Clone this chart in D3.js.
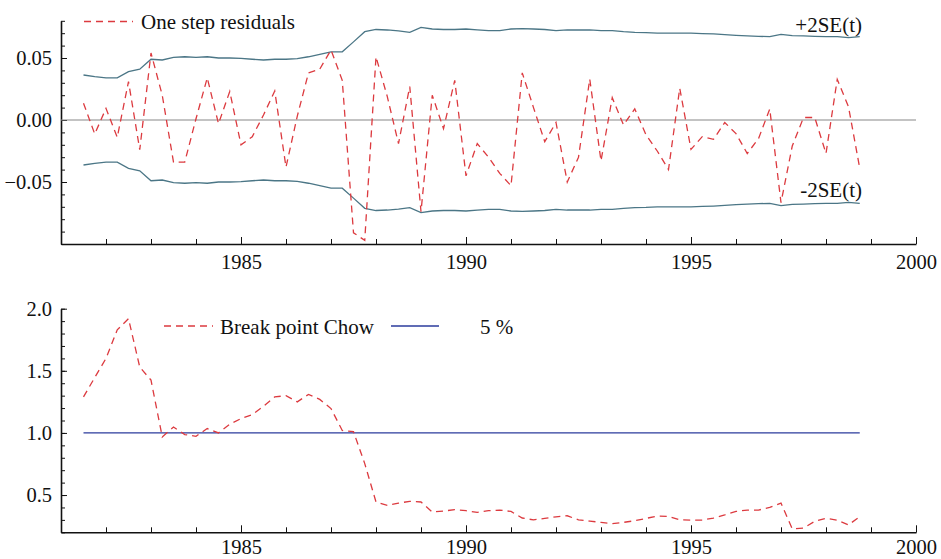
<!DOCTYPE html>
<html><head><meta charset="utf-8">
<script src="https://cdn.jsdelivr.net/npm/d3@7"></script>
<style>
body{margin:0;background:#fff;}
svg{display:block;font-family:"Liberation Serif","Times New Roman",serif;}
.ax text{font-family:"Liberation Serif",serif;font-size:20.5px;fill:#111;}
.ax path,.ax line{stroke:#111;}
</style></head>
<body><svg id="c" width="941" height="559"></svg>
<script>
// ---- data (quarterly, 1981Q3 .. 1998Q4) ----
const startYear = 1981.5;
const residuals = [0.0135,-0.0113,0.0094,-0.014,0.031,-0.024,0.054,0.020,-0.034,-0.034,
  0.001,0.034,-0.003,0.023,-0.020,-0.0135,0.004,0.0234,-0.038,0.003,
  0.038,0.041,0.0565,0.032,-0.091,-0.097,0.051,0.019,-0.019,0.027,
  -0.074,0.020,-0.007,0.032,-0.045,-0.019,-0.030,-0.043,-0.053,0.038,
  0.010,-0.0175,-0.002,-0.050,-0.030,0.033,-0.033,0.018,-0.004,0.009,
  -0.012,-0.025,-0.040,0.0256,-0.0237,-0.0134,-0.0156,-0.002,-0.011,-0.027,
  -0.015,0.0089,-0.0667,-0.021,0.002,0.002,-0.027,0.0328,0.0107,-0.039];
const upper2SE = [0.0363,0.035,0.034,0.034,0.039,0.041,0.049,0.0484,0.0505,0.051,
  0.0505,0.051,0.050,0.050,0.0497,0.049,0.0484,0.049,0.049,0.0495,
  0.051,0.053,0.055,0.055,0.063,0.0712,0.073,0.0726,0.0718,0.0707,
  0.0747,0.0734,0.073,0.073,0.0734,0.0726,0.072,0.072,0.0734,0.0737,
  0.0734,0.073,0.072,0.0726,0.0726,0.0726,0.072,0.072,0.0712,0.0707,
  0.0705,0.070,0.070,0.070,0.070,0.0697,0.0694,0.0689,0.0683,0.0678,
  0.0675,0.0672,0.069,0.068,0.0678,0.0675,0.0672,0.0672,0.0664,0.0672];
const lower2SE = [-0.0363,-0.035,-0.034,-0.034,-0.039,-0.041,-0.049,-0.0484,-0.0505,-0.051,
  -0.0505,-0.051,-0.050,-0.050,-0.0497,-0.049,-0.0484,-0.049,-0.049,-0.0495,
  -0.051,-0.053,-0.055,-0.055,-0.063,-0.0712,-0.073,-0.0726,-0.0718,-0.0707,
  -0.0747,-0.0734,-0.073,-0.073,-0.0734,-0.0726,-0.072,-0.072,-0.0734,-0.0737,
  -0.0734,-0.073,-0.072,-0.0726,-0.0726,-0.0726,-0.072,-0.072,-0.0712,-0.0707,
  -0.0705,-0.070,-0.070,-0.070,-0.070,-0.0697,-0.0694,-0.0689,-0.0683,-0.0678,
  -0.0675,-0.0672,-0.069,-0.068,-0.0678,-0.0675,-0.0672,-0.0672,-0.0664,-0.0672];
const chow = [1.29,1.446,1.60,1.83,1.92,1.53,1.425,0.968,1.048,0.987,
  0.973,1.035,1.0,1.07,1.115,1.148,1.215,1.29,1.30,1.25,
  1.31,1.27,1.196,1.02,1.01,0.753,0.444,0.417,0.435,0.449,
  0.444,0.363,0.371,0.382,0.374,0.36,0.374,0.379,0.368,0.315,
  0.30,0.312,0.325,0.333,0.30,0.29,0.28,0.27,0.28,0.293,
  0.312,0.33,0.328,0.30,0.298,0.298,0.315,0.34,0.368,0.379,
  0.379,0.40,0.435,0.228,0.234,0.288,0.312,0.298,0.26,0.325];
const crit5 = Array(70).fill(1.0);
const xMajorTicks = [1985,1990,1995,2000];
const xMinorTicks = d3.range(1981,2001);
const topMajor = [-0.05,0.00,0.05];
const topMinor = d3.range(-10,9).map(d=>d/100);
const botMajor = [0.5,1.0,1.5,2.0];
const botMinor = d3.range(2,21).map(d=>d/10);
const labels = {res:"One step residuals", up:"+2SE(t)", lo:"-2SE(t)", chow:"Break point Chow", crit:"5 %"};

const dates = residuals.map((_,i)=>startYear + i*0.25);
const RED="#dc3a3f", TEAL="#4b7686", BLUE="#2b3b9c";
const FS = 21;

const svg = d3.select("#c");
const x = d3.scaleLinear().domain([1981,2000]).range([61,916]);

function panel(y, yMajor, yMinor, fmt, axisY, xPad){
  const gx = svg.append("g").attr("class","ax").attr("transform",`translate(0,${axisY})`);
  gx.call(d3.axisBottom(x).tickValues(xMinorTicks).tickSize(-5).tickSizeOuter(0).tickFormat(""));
  gx.append("g").call(d3.axisBottom(x).tickValues(xMajorTicks).tickSize(-7).tickSizeOuter(0).tickPadding(xPad).tickFormat(d3.format("d")))
    .call(g=>g.select(".domain").remove());
  gx.selectAll(".domain").attr("stroke-width",1.6);
  const gy = svg.append("g").attr("class","ax").attr("transform",`translate(61,0)`);
  gy.call(d3.axisLeft(y).tickValues(yMinor).tickSize(-4).tickSizeOuter(0).tickFormat(""));
  gy.append("g").call(d3.axisLeft(y).tickValues(yMajor).tickSize(-6).tickSizeOuter(0).tickPadding(9).tickFormat(fmt))
    .call(g=>g.select(".domain").remove());
  gy.selectAll(".domain").attr("stroke-width",1.6);
}

// ---- top panel ----
const y1 = d3.scaleLinear().domain([-0.1,0.08]).range([244,20.8]);
panel(y1, topMajor, topMinor, d3.format(".2f"), 244, 10);
svg.append("line").attr("x1",61).attr("x2",916).attr("y1",y1(0)).attr("y2",y1(0))
  .attr("stroke","#888").attr("stroke-width",1.2);
const line1 = d3.line().x((d,i)=>x(dates[i])).y(d=>y1(d));
svg.append("path").datum(upper2SE).attr("d",line1).attr("fill","none").attr("stroke",TEAL).attr("stroke-width",1.3);
svg.append("path").datum(lower2SE).attr("d",line1).attr("fill","none").attr("stroke",TEAL).attr("stroke-width",1.3);
svg.append("path").datum(residuals).attr("d",line1).attr("fill","none").attr("stroke",RED)
  .attr("stroke-width",1.3).attr("stroke-dasharray","7,5");
svg.append("line").attr("x1",84).attr("x2",133).attr("y1",21.5).attr("y2",21.5)
  .attr("stroke",RED).attr("stroke-width",1.3).attr("stroke-dasharray","7,5");
svg.append("text").attr("x",141).attr("y",29).attr("font-size",FS).attr("fill","#111").text(labels.res);
svg.append("text").attr("x",862).attr("y",31.5).attr("font-size",FS).attr("fill","#111").attr("text-anchor","end").text(labels.up);
svg.append("text").attr("x",862).attr("y",196.5).attr("font-size",FS).attr("fill","#111").attr("text-anchor","end").text(labels.lo);

// ---- bottom panel ----
const y2 = d3.scaleLinear().domain([0.2,2.0]).range([532.3,308.7]);
panel(y2, botMajor, botMinor, d3.format(".1f"), 532.3, 7.5);
const line2 = d3.line().x((d,i)=>x(dates[i])).y(d=>y2(d));
svg.append("path").datum(crit5).attr("d",line2).attr("fill","none").attr("stroke",BLUE).attr("stroke-width",1.3);
svg.append("path").datum(chow).attr("d",line2).attr("fill","none").attr("stroke",RED)
  .attr("stroke-width",1.3).attr("stroke-dasharray","7,5");
svg.append("line").attr("x1",164).attr("x2",213).attr("y1",326).attr("y2",326)
  .attr("stroke",RED).attr("stroke-width",1.3).attr("stroke-dasharray","7,5");
svg.append("text").attr("x",220).attr("y",334).attr("font-size",FS).attr("fill","#111").text(labels.chow);
svg.append("line").attr("x1",391).attr("x2",439).attr("y1",326).attr("y2",326)
  .attr("stroke",BLUE).attr("stroke-width",1.3);
svg.append("text").attr("x",480).attr("y",334).attr("font-size",FS).attr("fill","#111").text(labels.crit);
</script></body></html>
